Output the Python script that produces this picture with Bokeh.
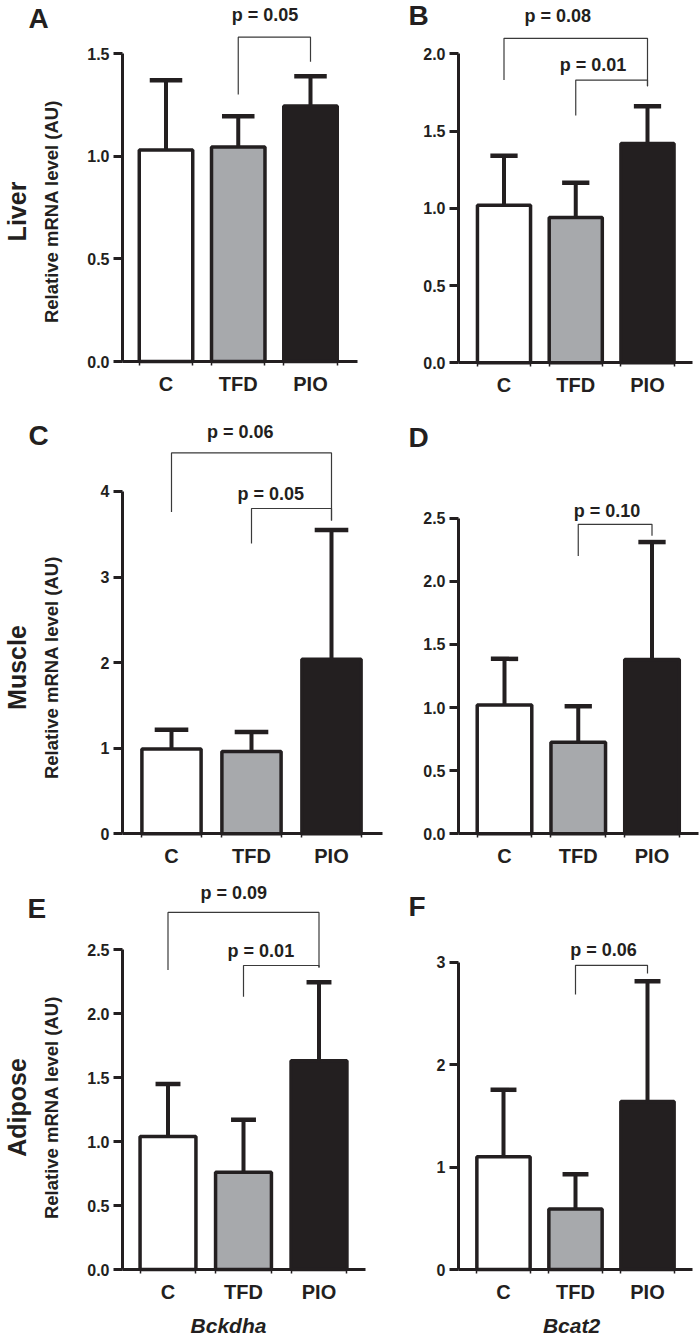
import math
from bokeh.plotting import figure
from bokeh.models import Range1d, FixedTicker, NumeralTickFormatter, Label, ColumnDataSource
from bokeh.layouts import column, row
from bokeh.core.properties import value
from bokeh.transform import dodge
from bokeh.embed import file_html
from bokeh.resources import INLINE

# ---------------- data ----------------
categories = ["C", "TFD", "PIO"]

liver_bckdha_mean = [1.03, 1.045, 1.245]
liver_bckdha_sem = [0.34, 0.15, 0.145]
liver_bcat2_mean = [1.02, 0.94, 1.42]
liver_bcat2_sem = [0.32, 0.225, 0.24]
muscle_bckdha_mean = [0.99, 0.96, 2.04]
muscle_bckdha_sem = [0.225, 0.23, 1.51]
muscle_bcat2_mean = [1.02, 0.725, 1.38]
muscle_bcat2_sem = [0.365, 0.285, 0.93]
adipose_bckdha_mean = [1.04, 0.76, 1.63]
adipose_bckdha_sem = [0.41, 0.41, 0.615]
adipose_bcat2_mean = [1.10, 0.59, 1.64]
adipose_bcat2_sem = [0.655, 0.34, 1.175]

# comparison brackets: (from, to, top, left leg end, right leg end)
liver_bckdha_brackets = [("TFD", "PIO", 1.58, 1.30, 1.46)]
liver_bcat2_brackets = [("C", "PIO", 2.10, 1.83, 1.79), ("TFD", "PIO", 1.83, 1.60, 1.79)]
muscle_bckdha_brackets = [("C", "PIO", 4.45, 3.76, 3.66), ("TFD", "PIO", 3.80, 3.39, 3.66)]
muscle_bcat2_brackets = [("TFD", "PIO", 2.45, 2.20, 2.36)]
adipose_bckdha_brackets = [("C", "PIO", 2.79, 2.34, 2.36), ("TFD", "PIO", 2.375, 2.13, 2.36)]
adipose_bcat2_brackets = [("TFD", "PIO", 2.97, 2.685, 2.89)]

# p-value labels
liver_bckdha_p = ["p = 0.05"]
liver_bcat2_p = ["p = 0.08", "p = 0.01"]
muscle_bckdha_p = ["p = 0.06", "p = 0.05"]
muscle_bcat2_p = ["p = 0.10"]
adipose_bckdha_p = ["p = 0.09", "p = 0.01"]
adipose_bcat2_p = ["p = 0.06"]

liver_bckdha_yticks = [0, 0.5, 1.0, 1.5]
liver_bcat2_yticks = [0, 0.5, 1.0, 1.5, 2.0]
muscle_bckdha_yticks = [0, 1, 2, 3, 4]
muscle_bcat2_yticks = [0, 0.5, 1.0, 1.5, 2.0, 2.5]
adipose_bckdha_yticks = [0, 0.5, 1.0, 1.5, 2.0, 2.5]
adipose_bcat2_yticks = [0, 1, 2, 3]

tissues = ["Liver", "Muscle", "Adipose"]
genes = ["Bckdha", "Bcat2"]
letters = ["A", "B", "C", "D", "E", "F"]
y_title = "Relative mRNA level (AU)"

# ---------------- style / layout ----------------
FONT = "Liberation Sans"
INK = "#231f20"
GREY = "#a7a9ac"
BRK = "#3a3a3a"
fills = ["white", GREY, INK]
BAR_W = 0.74

# layout in page pixels: figure origin & size, first bar centre, px per category,
# y-axis x, x-axis end, pixel of y=0, px per unit, cap width; text centres in px
panels = [
    dict(letter="A", mean=liver_bckdha_mean, sem=liver_bckdha_sem, brackets=liver_bckdha_brackets,
         p=liver_bckdha_p, px=[2.37], py=[14], yticks=liver_bckdha_yticks, fmt="0.0",
         org=(0, 0), size=(386, 415), c1=165.5, s=72.25, ax=122, xend=357, y0=361, ppu=205.3,
         cap=0.45, letter_pos=(28, 18), tissue=(tissues[0], 211), gene=None),
    dict(letter="B", mean=liver_bcat2_mean, sem=liver_bcat2_sem, brackets=liver_bcat2_brackets,
         p=liver_bcat2_p, px=[1.75, 2.24], py=[15.7, 64], yticks=liver_bcat2_yticks, fmt="0.0",
         org=(386, 0), size=(313, 415), c1=503.5, s=71.75, ax=458, xend=692, y0=362.3, ppu=154.5,
         cap=0.38, letter_pos=(408, 15), tissue=None, gene=None),
    dict(letter="C", mean=muscle_bckdha_mean, sem=muscle_bckdha_sem, brackets=muscle_bckdha_brackets,
         p=muscle_bckdha_p, px=[1.86, 2.24], py=[431.7, 493.3], yticks=muscle_bckdha_yticks, fmt="0",
         org=(0, 415), size=(386, 457), c1=171, s=80, ax=122, xend=382, y0=833.3, ppu=85.6,
         cap=0.42, letter_pos=(28, 434.5), tissue=(tissues[1], 667), gene=None),
    dict(letter="D", mean=muscle_bcat2_mean, sem=muscle_bcat2_sem, brackets=muscle_bcat2_brackets,
         p=muscle_bcat2_p, px=[2.39], py=[510], yticks=muscle_bcat2_yticks, fmt="0.0",
         org=(386, 415), size=(313, 457), c1=504, s=73.75, ax=458, xend=698, y0=833.3, ppu=126.3,
         cap=0.37, letter_pos=(408, 437), tissue=None, gene=None),
    dict(letter="E", mean=adipose_bckdha_mean, sem=adipose_bckdha_sem, brackets=adipose_bckdha_brackets,
         p=adipose_bckdha_p, px=[1.87, 2.23], py=[892.2, 950.3], yticks=adipose_bckdha_yticks, fmt="0.0",
         org=(0, 872), size=(386, 469), c1=167.5, s=75.5, ax=122, xend=365, y0=1269, ppu=128.0,
         cap=0.33, letter_pos=(27, 908), tissue=(tissues[2], 1107), gene=(genes[0], 228, 1325)),
    dict(letter="F", mean=adipose_bcat2_mean, sem=adipose_bcat2_sem, brackets=adipose_bcat2_brackets,
         p=adipose_bcat2_p, px=[2.39], py=[949.7], yticks=adipose_bcat2_yticks, fmt="0",
         org=(386, 872), size=(313, 469), c1=503, s=72, ax=458, xend=692, y0=1269, ppu=102.4,
         cap=0.36, letter_pos=(408, 906), tissue=None, gene=(genes[1], 571, 1325)),
]


def make_panel(P):
    ox, oy = P["org"]
    W, H = P["size"]
    c1, s, y0, ppu = P["c1"], P["s"], P["y0"], P["ppu"]

    def dx(px):
        return 1 + (px - c1) / s

    def dy(py):
        return (y0 - py) / ppu

    x_start, x_end = dx(ox), dx(ox + W)
    y_start, y_end = dy(oy + H), dy(oy)

    p = figure(width=W, height=H, x_range=Range1d(x_start, x_end), y_range=Range1d(y_start, y_end),
               output_backend="svg", toolbar_location=None,
               min_border=0, min_border_left=0, min_border_right=0,
               min_border_top=0, min_border_bottom=0)
    p.outline_line_color = None
    p.grid.visible = False
    p.background_fill_color = "white"
    p.border_fill_color = "white"

    xs = [i + 1 for i in range(len(categories))]
    tops = [m + e for m, e in zip(P["mean"], P["sem"])]
    src = ColumnDataSource(dict(x=xs, mean=P["mean"], err=tops, fill=fills))

    p.vbar(x="x", top="mean", bottom=0, width=BAR_W, fill_color="fill",
           line_color=INK, line_width=3.5, source=src)
    p.segment(x0="x", y0="mean", x1="x", y1="err", line_color=INK, line_width=4, source=src)
    p.segment(x0=dodge("x", -P["cap"] / 2), y0="err", x1=dodge("x", P["cap"] / 2), y1="err",
              line_color=INK, line_width=4.5, source=src)

    # brackets
    bxs, bys = [], []
    for a, b, top, la, lb in P["brackets"]:
        xa = categories.index(a) + 1
        xb = categories.index(b) + 1
        bxs.append([xa, xa, xb, xb])
        bys.append([la, top, top, lb])
    p.multi_line(xs=bxs, ys=bys, line_color=BRK, line_width=1.2)

    p.text(x=P["px"], y=[dy(v) for v in P["py"]], text=P["p"],
           text_font=value(FONT), text_font_style="bold", text_font_size="18px",
           text_color=INK, text_align="center", text_baseline="middle")

    # axes (placed at fixed data locations inside the full-figure frame)
    xa_ = p.xaxis[0]
    xa_.fixed_location = 0
    xa_.bounds = (dx(P["ax"]), dx(P["xend"]))
    edges = []
    for x in xs:
        edges += [x - BAR_W / 2, x + BAR_W / 2]
    xa_.ticker = FixedTicker(ticks=xs, minor_ticks=edges)
    xa_.major_label_overrides = {x: c for x, c in zip(xs, categories)}
    xa_.major_tick_out = 0
    xa_.major_tick_in = 0
    xa_.major_tick_line_color = None
    xa_.minor_tick_out = 4
    xa_.minor_tick_in = 0
    xa_.minor_tick_line_width = 1.5
    xa_.minor_tick_line_color = INK
    xa_.axis_line_width = 3
    xa_.axis_line_color = INK
    xa_.major_label_text_font = FONT
    xa_.major_label_text_font_style = "bold"
    xa_.major_label_text_font_size = "20px"
    xa_.major_label_text_color = INK
    xa_.major_label_standoff = 7

    ya = p.yaxis[0]
    ya.fixed_location = dx(P["ax"])
    ya.ticker = FixedTicker(ticks=P["yticks"])
    ya.formatter = NumeralTickFormatter(format=P["fmt"])
    ya.bounds = (0, P["yticks"][-1])
    ya.major_tick_out = 9
    ya.major_tick_in = 0
    ya.major_tick_line_width = 3
    ya.major_tick_line_color = INK
    ya.minor_tick_line_color = None
    ya.axis_line_width = 3
    ya.axis_line_color = INK
    ya.major_label_text_font = FONT
    ya.major_label_text_font_style = "bold"
    ya.major_label_text_font_size = "16px"
    ya.major_label_text_color = INK
    ya.major_label_standoff = 4

    # panel letter
    lx, ly = P["letter_pos"]
    p.add_layout(Label(x=dx(lx), y=dy(ly), text=P["letter"], text_font=FONT,
                       text_font_style="bold", text_font_size="28px", text_color=INK,
                       text_align="left", text_baseline="middle"))
    if P["tissue"]:
        name, cy = P["tissue"]
        p.add_layout(Label(x=dx(16), y=dy(cy), text=name, text_font=FONT,
                           text_font_style="bold", text_font_size="25px", text_color=INK,
                           angle=math.pi / 2, text_align="center", text_baseline="middle"))
        p.add_layout(Label(x=dx(51), y=dy(cy), text=y_title, text_font=FONT,
                           text_font_style="bold", text_font_size="18.5px", text_color=INK,
                           angle=math.pi / 2, text_align="center", text_baseline="middle"))
    if P["gene"]:
        g, gx, gy = P["gene"]
        p.add_layout(Label(x=dx(gx), y=dy(gy), text=g, text_font=FONT,
                           text_font_style="bold italic", text_font_size="21px", text_color=INK,
                           text_align="center", text_baseline="middle"))
    return p


figs = [make_panel(P) for P in panels]
layout = column(row(figs[0], figs[1]), row(figs[2], figs[3]), row(figs[4], figs[5]))

open("out.html", "w").write(file_html(layout, INLINE))
